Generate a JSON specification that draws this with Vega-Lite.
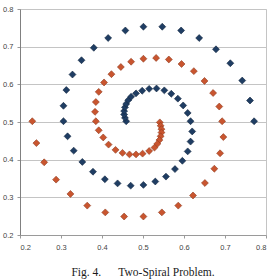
{
  "$schema": "https://vega.github.io/schema/vega-lite/v6.json",
  "autosize": {"type": "none"},
  "width": 246,
  "height": 226,
  "padding": {"left": 20, "top": 9, "right": 5, "bottom": 44},
  "background": "white",
  "config": {
    "view": {"stroke": "#c4c4c4", "strokeWidth": 1},
    "axis": {
      "labelFont": "Liberation Sans",
      "labelFontSize": 7.5,
      "labelColor": "#444444",
      "gridColor": "#c4c4c4",
      "gridOpacity": 1,
      "tickColor": "#9a9a9a",
      "domainColor": "#9a9a9a",
      "title": null
    }
  },
  "title": {
    "text": "Fig. 4.\u2003\u2002Two-Spiral Problem.",
    "orient": "bottom",
    "anchor": "middle",
    "font": "Liberation Serif",
    "fontSize": 11.5,
    "fontWeight": "normal",
    "color": "#1a1a1a",
    "offset": 16
  },
  "data": {
    "values": [
      {"x": 0.459, "y": 0.502, "s": "A"},
      {"x": 0.456, "y": 0.511, "s": "A"},
      {"x": 0.454, "y": 0.520, "s": "A"},
      {"x": 0.454, "y": 0.529, "s": "A"},
      {"x": 0.456, "y": 0.539, "s": "A"},
      {"x": 0.459, "y": 0.548, "s": "A"},
      {"x": 0.464, "y": 0.558, "s": "A"},
      {"x": 0.471, "y": 0.567, "s": "A"},
      {"x": 0.483, "y": 0.576, "s": "A"},
      {"x": 0.498, "y": 0.583, "s": "A"},
      {"x": 0.515, "y": 0.588, "s": "A"},
      {"x": 0.533, "y": 0.589, "s": "A"},
      {"x": 0.552, "y": 0.584, "s": "A"},
      {"x": 0.569, "y": 0.575, "s": "A"},
      {"x": 0.585, "y": 0.562, "s": "A"},
      {"x": 0.598, "y": 0.544, "s": "A"},
      {"x": 0.609, "y": 0.524, "s": "A"},
      {"x": 0.616, "y": 0.502, "s": "A"},
      {"x": 0.620, "y": 0.475, "s": "A"},
      {"x": 0.616, "y": 0.448, "s": "A"},
      {"x": 0.609, "y": 0.422, "s": "A"},
      {"x": 0.596, "y": 0.397, "s": "A"},
      {"x": 0.578, "y": 0.375, "s": "A"},
      {"x": 0.556, "y": 0.355, "s": "A"},
      {"x": 0.530, "y": 0.342, "s": "A"},
      {"x": 0.501, "y": 0.333, "s": "A"},
      {"x": 0.470, "y": 0.331, "s": "A"},
      {"x": 0.438, "y": 0.337, "s": "A"},
      {"x": 0.407, "y": 0.348, "s": "A"},
      {"x": 0.378, "y": 0.368, "s": "A"},
      {"x": 0.352, "y": 0.394, "s": "A"},
      {"x": 0.331, "y": 0.424, "s": "A"},
      {"x": 0.316, "y": 0.462, "s": "A"},
      {"x": 0.306, "y": 0.502, "s": "A"},
      {"x": 0.306, "y": 0.543, "s": "A"},
      {"x": 0.313, "y": 0.585, "s": "A"},
      {"x": 0.328, "y": 0.626, "s": "A"},
      {"x": 0.350, "y": 0.664, "s": "A"},
      {"x": 0.380, "y": 0.697, "s": "A"},
      {"x": 0.415, "y": 0.723, "s": "A"},
      {"x": 0.457, "y": 0.743, "s": "A"},
      {"x": 0.501, "y": 0.753, "s": "A"},
      {"x": 0.547, "y": 0.753, "s": "A"},
      {"x": 0.593, "y": 0.743, "s": "A"},
      {"x": 0.637, "y": 0.723, "s": "A"},
      {"x": 0.678, "y": 0.693, "s": "A"},
      {"x": 0.713, "y": 0.656, "s": "A"},
      {"x": 0.742, "y": 0.610, "s": "A"},
      {"x": 0.761, "y": 0.557, "s": "A"},
      {"x": 0.771, "y": 0.502, "s": "A"},
      {"x": 0.541, "y": 0.499, "s": "B"},
      {"x": 0.543, "y": 0.490, "s": "B"},
      {"x": 0.545, "y": 0.481, "s": "B"},
      {"x": 0.545, "y": 0.472, "s": "B"},
      {"x": 0.543, "y": 0.462, "s": "B"},
      {"x": 0.540, "y": 0.452, "s": "B"},
      {"x": 0.535, "y": 0.442, "s": "B"},
      {"x": 0.528, "y": 0.432, "s": "B"},
      {"x": 0.515, "y": 0.423, "s": "B"},
      {"x": 0.499, "y": 0.416, "s": "B"},
      {"x": 0.483, "y": 0.414, "s": "B"},
      {"x": 0.467, "y": 0.414, "s": "B"},
      {"x": 0.450, "y": 0.418, "s": "B"},
      {"x": 0.433, "y": 0.426, "s": "B"},
      {"x": 0.416, "y": 0.440, "s": "B"},
      {"x": 0.403, "y": 0.459, "s": "B"},
      {"x": 0.392, "y": 0.478, "s": "B"},
      {"x": 0.385, "y": 0.502, "s": "B"},
      {"x": 0.383, "y": 0.527, "s": "B"},
      {"x": 0.385, "y": 0.553, "s": "B"},
      {"x": 0.392, "y": 0.580, "s": "B"},
      {"x": 0.405, "y": 0.605, "s": "B"},
      {"x": 0.423, "y": 0.627, "s": "B"},
      {"x": 0.446, "y": 0.646, "s": "B"},
      {"x": 0.471, "y": 0.660, "s": "B"},
      {"x": 0.501, "y": 0.668, "s": "B"},
      {"x": 0.532, "y": 0.670, "s": "B"},
      {"x": 0.563, "y": 0.666, "s": "B"},
      {"x": 0.594, "y": 0.654, "s": "B"},
      {"x": 0.624, "y": 0.635, "s": "B"},
      {"x": 0.650, "y": 0.609, "s": "B"},
      {"x": 0.671, "y": 0.577, "s": "B"},
      {"x": 0.686, "y": 0.541, "s": "B"},
      {"x": 0.693, "y": 0.502, "s": "B"},
      {"x": 0.696, "y": 0.460, "s": "B"},
      {"x": 0.688, "y": 0.417, "s": "B"},
      {"x": 0.674, "y": 0.376, "s": "B"},
      {"x": 0.651, "y": 0.338, "s": "B"},
      {"x": 0.622, "y": 0.305, "s": "B"},
      {"x": 0.586, "y": 0.278, "s": "B"},
      {"x": 0.546, "y": 0.260, "s": "B"},
      {"x": 0.501, "y": 0.249, "s": "B"},
      {"x": 0.454, "y": 0.249, "s": "B"},
      {"x": 0.408, "y": 0.260, "s": "B"},
      {"x": 0.364, "y": 0.278, "s": "B"},
      {"x": 0.323, "y": 0.309, "s": "B"},
      {"x": 0.288, "y": 0.347, "s": "B"},
      {"x": 0.259, "y": 0.393, "s": "B"},
      {"x": 0.240, "y": 0.444, "s": "B"},
      {"x": 0.230, "y": 0.502, "s": "B"}
    ]
  },
  "mark": {"type": "point", "shape": "diamond", "filled": true, "size": 48, "opacity": 1, "strokeWidth": 0.6},
  "encoding": {
    "x": {
      "field": "x",
      "type": "quantitative",
      "scale": {"domain": [0.2, 0.8], "nice": false, "zero": false},
      "axis": {"values": [0.2, 0.3, 0.4, 0.5, 0.6, 0.7, 0.8], "format": ".1f", "grid": false, "tickSize": 3, "labelPadding": 5}
    },
    "y": {
      "field": "y",
      "type": "quantitative",
      "scale": {"domain": [0.2, 0.8], "nice": false, "zero": false},
      "axis": {"values": [0.2, 0.3, 0.4, 0.5, 0.6, 0.7, 0.8], "format": ".1f", "grid": true, "tickSize": 3, "labelPadding": 4, "domainColor": "#808080"}
    },
    "color": {
      "field": "s",
      "type": "nominal",
      "scale": {"domain": ["A", "B"], "range": ["#1f3d63", "#c9552f"]},
      "legend": null
    },
    "stroke": {
      "field": "s",
      "type": "nominal",
      "scale": {"domain": ["A", "B"], "range": ["#13263f", "#8f3a1e"]},
      "legend": null
    }
  }
}
